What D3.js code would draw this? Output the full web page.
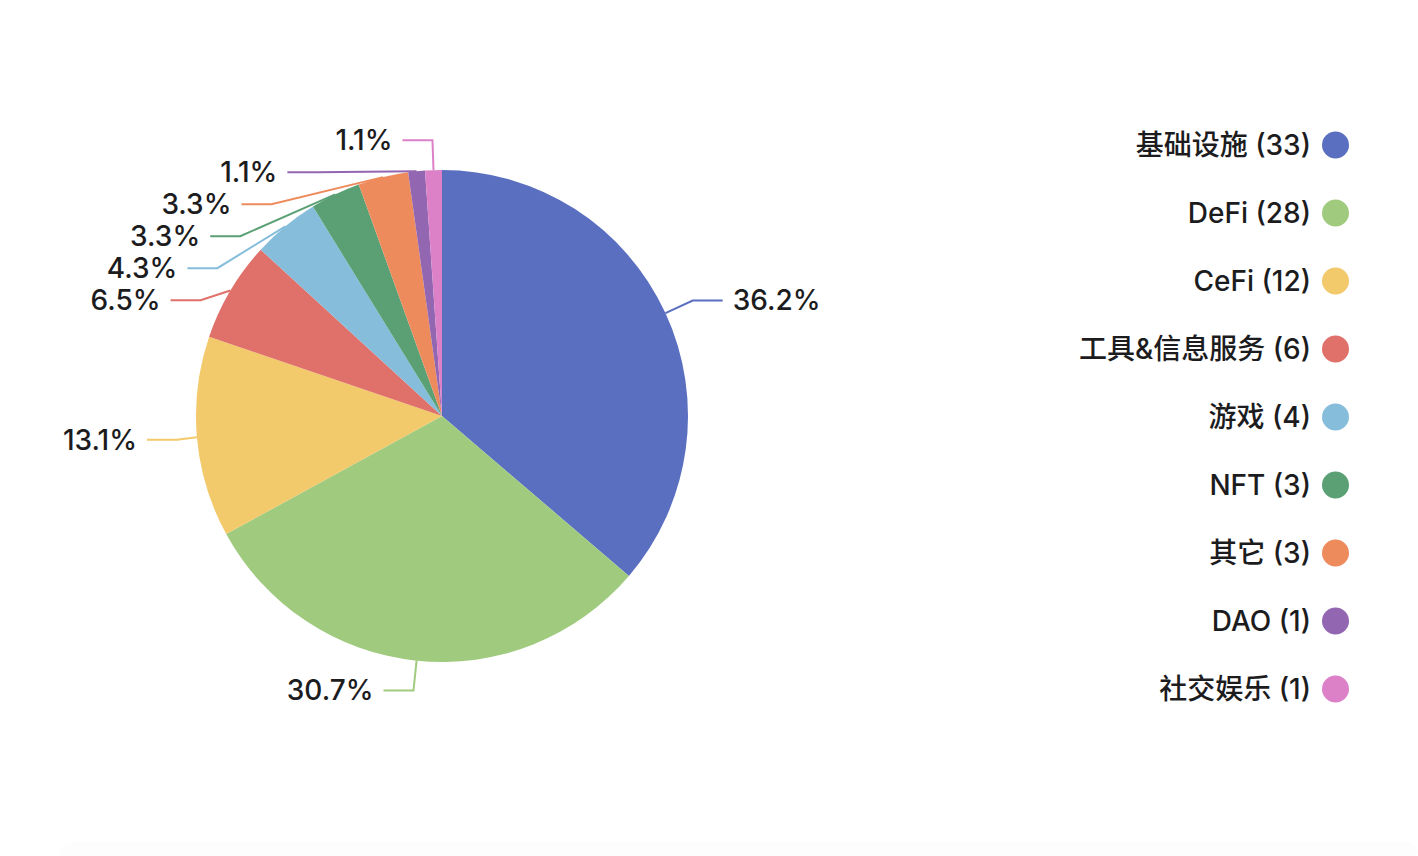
<!DOCTYPE html>
<html>
<head>
<meta charset="utf-8">
<script src="https://cdn.jsdelivr.net/npm/d3@7/dist/d3.min.js"></script>
<style>
  html, body { margin: 0; padding: 0; background: #ffffff; }
  svg { display: block; }
  text { font-family: Inter, "Noto Sans CJK SC", sans-serif; font-weight: 500; }
</style>
</head>
<body>
<script>
const categories = ['基础设施', 'DeFi', 'CeFi', '工具&信息服务', '游戏', 'NFT', '其它', 'DAO', '社交娱乐'];
const counts = [33, 28, 12, 6, 4, 3, 3, 1, 1];
const pctLabels = ['36.2%', '30.7%', '13.1%', '6.5%', '4.3%', '3.3%', '3.3%', '1.1%', '1.1%'];
const colors = ['#5a6fc0', '#a0cb7f', '#f2c96b', '#e0706a', '#85bddb', '#5ba075', '#ee8b5d', '#9366b1', '#dc80c7'];

const W = 1418, H = 856;
const cx = 442, cy = 416, R = 246;
const len1 = 30, len2 = 30, rA = R + 20, lineGap = 32, textGap = 10;

const svg = d3.select('body').append('svg').attr('width', W).attr('height', H);

// faint bottom band
svg.append('rect').attr('x', 60).attr('y', 842).attr('width', W - 60).attr('height', 20)
  .attr('rx', 14).attr('fill', '#fdfdfd');

const data = categories.map((c, i) => ({ cat: c, value: counts[i], pct: pctLabels[i], color: colors[i] }));
const pie = d3.pie().sort(null).value(d => d.value).startAngle(0).endAngle(2 * Math.PI);
const arcs = pie(data);
const arc = d3.arc().innerRadius(0).outerRadius(R);

// label layout
const labels = arcs.map(a => {
  const mid = (a.startAngle + a.endAngle) / 2;
  const dx = Math.sin(mid), dy = -Math.cos(mid);
  const side = dx < 0 ? -1 : 1;
  return {
    a, side,
    ex: cx + R * dx, ey: cy + R * dy,
    nx: cx + (R + len1) * dx, ny: cy + (R + len1) * dy,
    x: cx + (R + len1) * dx, y: cy + (R + len1) * dy
  };
});

[-1, 1].forEach(side => {
  const list = labels.filter(l => l.side === side).sort((p, q) => p.ny - q.ny);
  if (list.length < 2) return;
  let prev = -Infinity;
  list.forEach(l => { l.y = Math.max(l.ny, prev + lineGap); prev = l.y; });
  const semis = [list.filter(l => l.y <= cy), list.filter(l => l.y > cy)];
  semis.forEach(semi => {
    if (!semi.length) return;
    let maxDy = -1, rB = rA;
    semi.forEach(l => {
      const ddy = Math.abs(l.y - cy);
      if (ddy >= maxDy) {
        const ddx = l.nx - cx;
        rB = Math.abs(ddx) < rA ? Math.sqrt(ddy * ddy / (1 - ddx * ddx / (rA * rA))) : rA;
        maxDy = ddy;
      }
    });
    semi.forEach(l => {
      const ddy = Math.abs(l.y - cy);
      const k = Math.sqrt(Math.max(0, 1 - ddy * ddy / (rB * rB)));
      l.x = cx + side * k * rA;
    });
  });
});

const g = svg.append('g');

// label lines
g.selectAll('polyline.line').data(labels).join('polyline')
  .attr('class', 'line')
  .attr('fill', 'none')
  .attr('stroke', l => l.a.data.color)
  .attr('stroke-width', 2)
  .attr('points', l => [[l.ex, l.ey], [l.x, l.y], [l.x + l.side * len2, l.y]].map(p => p.join(',')).join(' '));

// slices
g.append('g').attr('transform', `translate(${cx},${cy})`)
  .selectAll('path').data(arcs).join('path')
  .attr('d', arc)
  .attr('fill', d => d.data.color);

// label texts
g.selectAll('text.lbl').data(labels).join('text')
  .attr('class', 'lbl')
  .attr('x', l => l.x + l.side * (len2 + textGap))
  .attr('y', l => l.y)
  .attr('dy', '0.35em')
  .attr('text-anchor', l => l.side < 0 ? 'end' : 'start')
  .attr('font-size', 28)
  .attr('fill', '#1c1c1e')
  .text(l => l.a.data.pct);

// legend
const legendY = d3.scalePoint().domain(categories).range([145, 689]);
const lg = svg.append('g');
const items = lg.selectAll('g').data(data).join('g')
  .attr('transform', d => `translate(0,${legendY(d.cat)})`);
items.append('circle').attr('cx', 1335.5).attr('cy', 0).attr('r', 13.5).attr('fill', d => d.color);
items.append('text')
  .attr('x', 1311).attr('y', 0).attr('dy', '0.35em')
  .attr('text-anchor', 'end')
  .attr('font-size', 28)
  .attr('fill', '#1c1c1e')
  .text(d => `${d.cat} (${d.value})`);
</script>
</body>
</html>
